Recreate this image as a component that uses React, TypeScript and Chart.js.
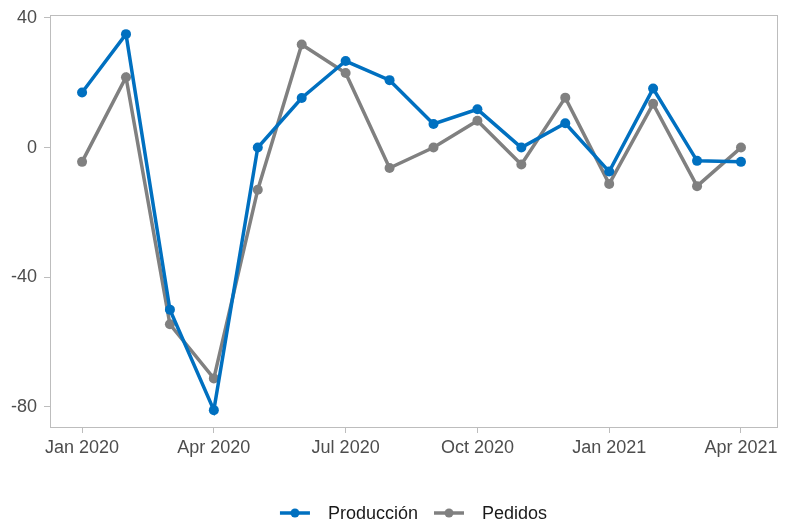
import React, { useEffect, useRef } from "react";
import { Chart, registerables } from "chart.js";

Chart.register(...registerables);

const months = [
  "Jan 2020", "Feb 2020", "Mar 2020", "Apr 2020", "May 2020", "Jun 2020",
  "Jul 2020", "Aug 2020", "Sep 2020", "Oct 2020", "Nov 2020", "Dec 2020",
  "Jan 2021", "Feb 2021", "Mar 2021", "Apr 2021",
];
const produccion = [17, 35, -50, -81, 0, 15.3, 26.7, 20.8, 7.3, 11.8, 0, 7.5, -7.4, 18.2, -4.1, -4.4];
const pedidos = [-4.4, 21.7, -54.5, -71.2, -13, 31.8, 23, -6.3, 0, 8.3, -5.2, 15.4, -11.2, 13.5, -11.9, 0];
const xTickIndex = [0, 3, 6, 9, 12, 15];
const yTicks = [-80, -40, 0, 40];
const seriesNames = ["Producción", "Pedidos"];
const seriesColors = ["#0070C0", "#808080"];

const FONT = "'Liberation Sans', Arial, sans-serif";
const AXIS = "#bdbdbd";
const TEXT = "#4d4d4d";

const frameAndLegend = {
  id: "frameAndLegend",
  afterDraw(chart: any) {
    const { ctx, chartArea } = chart;
    ctx.save();
    ctx.strokeStyle = AXIS;
    ctx.lineWidth = 1;
    ctx.strokeRect(chartArea.left + 0.5, chartArea.top + 0.5, chartArea.right - chartArea.left, chartArea.bottom - chartArea.top);
    // legend
    ctx.font = `18px ${FONT}`;
    const iconW = 30;
    const gapText = 18;
    const gapItem = 16;
    const widths = seriesNames.map((n) => ctx.measureText(n).width);
    const total = widths.reduce((a, w) => a + iconW + gapText + w, 0) + gapItem * (seriesNames.length - 1);
    let x = (chartArea.left + chartArea.right) / 2 - total / 2;
    const y = 513;
    seriesNames.forEach((name, i) => {
      ctx.strokeStyle = seriesColors[i];
      ctx.fillStyle = seriesColors[i];
      ctx.lineWidth = 3.5;
      ctx.beginPath();
      ctx.moveTo(x, y);
      ctx.lineTo(x + iconW, y);
      ctx.stroke();
      ctx.beginPath();
      ctx.arc(x + iconW / 2, y, 4.5, 0, Math.PI * 2);
      ctx.fill();
      x += iconW + gapText;
      ctx.fillStyle = "#1a1a1a";
      ctx.textBaseline = "middle";
      ctx.textAlign = "left";
      ctx.fillText(name, x, y + 1);
      x += widths[i] + gapItem;
    });
    ctx.restore();
  },
};

export default function App() {
  const ref = useRef<HTMLCanvasElement>(null);
  useEffect(() => {
    document.body.style.margin = "0";
    const mk = (arr: number[]) => arr.map((v, i) => ({ x: i, y: v }));
    const ds = (i: number, arr: number[]) => ({
      label: seriesNames[i],
      data: mk(arr),
      borderColor: seriesColors[i],
      backgroundColor: seriesColors[i],
      borderWidth: 3.5,
      pointRadius: 5,
      pointBorderWidth: 0,
      tension: 0,
    });
    const chart = new Chart(ref.current!, {
      type: "line",
      data: {
        datasets: [ds(0, produccion), ds(1, pedidos)],
      },
      options: {
        animation: false,
        responsive: false,
        maintainAspectRatio: false,
        layout: { padding: { top: 15, right: 12, bottom: 53, left: 0 } },
        plugins: { legend: { display: false }, tooltip: { enabled: false } },
        scales: {
          x: {
            type: "linear",
            min: -0.73,
            max: 15.82,
            afterBuildTicks: (s: any) => {
              s.ticks = xTickIndex.map((v) => ({ value: v }));
            },
            afterFit: (s: any) => {
              s.height = 40;
              s.paddingLeft = 0;
              s.paddingRight = 0;
            },
            grid: { display: true, drawOnChartArea: false, drawTicks: true, tickLength: 6, color: AXIS },
            border: { display: true, color: AXIS },
            ticks: {
              autoSkip: false,
              maxRotation: 0,
              padding: 4,
              color: TEXT,
              font: { family: FONT, size: 18 },
              callback: (v: any) => months[v as number] ?? "",
            },
          },
          y: {
            type: "linear",
            min: -86.2,
            max: 40.9,
            afterBuildTicks: (s: any) => {
              s.ticks = yTicks.map((v) => ({ value: v }));
            },
            afterFit: (s: any) => {
              s.width = 50;
              s.paddingTop = 0;
              s.paddingBottom = 0;
            },
            grid: { display: true, drawOnChartArea: false, drawTicks: true, tickLength: 6, color: AXIS },
            border: { display: true, color: AXIS },
            ticks: {
              padding: 7,
              color: TEXT,
              font: { family: FONT, size: 18 },
            },
          },
        },
      },
      plugins: [frameAndLegend],
    } as any);
    return () => chart.destroy();
  }, []);
  return (
    <div style={{ position: "absolute", left: 0, top: 0, width: 789, height: 520 }}>
      <canvas ref={ref} width={789} height={520} style={{ width: 789, height: 520 }} />
    </div>
  );
}
